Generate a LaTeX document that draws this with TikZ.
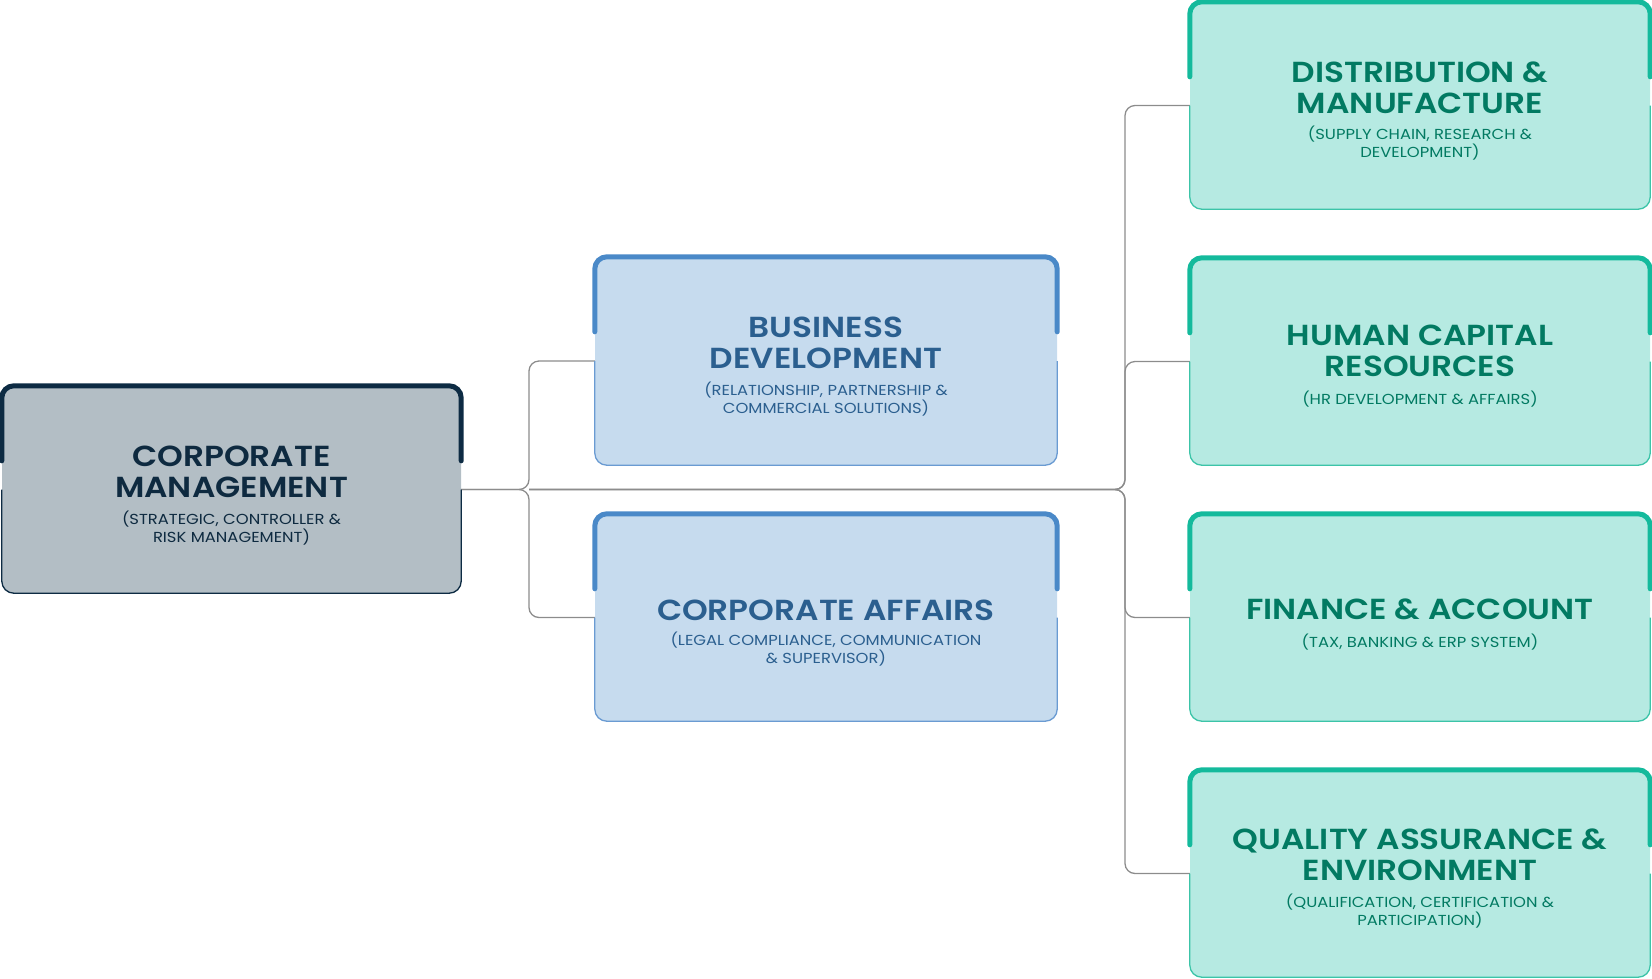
\documentclass[tikz,border=0pt]{standalone}
\usepackage{fontspec}
\setmainfont{Poppins}
\newfontfamily\ttlfont[FakeStretch=1.13, BoldFont={Poppins SemiBold}]{Poppins}
\newfontfamily\subfont[FakeStretch=1.13]{Poppins}
\definecolor{cmfill}{HTML}{B3BEC5}
\definecolor{cmline}{HTML}{0D2B43}
\definecolor{cmtext}{HTML}{0E2A40}
\definecolor{bdfill}{HTML}{C6DBEE}
\definecolor{bdline}{HTML}{4A89C8}
\definecolor{bdthin}{HTML}{6A9BD2}
\definecolor{bdtext}{HTML}{2B5F8F}
\definecolor{grfill}{HTML}{B6EAE2}
\definecolor{grline}{HTML}{14BA9C}
\definecolor{grthin}{HTML}{3CC4A8}
\definecolor{grtext}{HTML}{027A62}
\definecolor{connc}{HTML}{8C8C8C}
\begin{document}
\begin{tikzpicture}[x=1pt,y=-1pt,
  orgbox/.style={rectangle, rounded corners=12pt, minimum width=460pt, minimum height=207pt, inner sep=0pt, draw=none},
  titletext/.style={font=\ttlfont\fontsize{29}{31}\selectfont\bfseries, align=center, anchor=base, inner sep=0pt},
  subtext/.style={font=\subfont\fontsize{14.5}{17.5}\selectfont, align=center, anchor=base, inner sep=0pt},
  conn/.style={draw=connc, line width=1.3pt, rounded corners=10pt},
  thickcap/.style={line width=5pt, rounded corners=12pt, line cap=round},
  thinedge/.style={line width=1.3pt, rounded corners=12pt}
]
\useasboundingbox (0,0) rectangle (1652,978);

% boxes
\node[orgbox, fill=cmfill, minimum width=459pt] (CM) at (231.5,489.5) {};
\node[orgbox, fill=bdfill, minimum width=462pt, minimum height=208pt] (BD) at (826,361) {};
\node[orgbox, fill=bdfill, minimum width=462pt] (CA) at (826,617.5) {};
\node[orgbox, fill=grfill] (DM) at (1420,105.5) {};
\node[orgbox, fill=grfill] (HC) at (1420,361.5) {};
\node[orgbox, fill=grfill] (FA) at (1420,617.5) {};
\node[orgbox, fill=grfill] (QA) at (1420,873.5) {};

% connectors
\coordinate (j1) at (529,489.5);
\coordinate (j2) at (1125,489.5);
\draw[conn] (CM.east) -- (j1) |- (BD.west);
\draw[conn] (CM.east) -- (j1) |- (CA.west);
\draw[conn] (j1) -- (j2) |- (DM.west);
\draw[conn] (j1) -- (j2) |- (HC.west);
\draw[conn] (j1) -- (j2) |- (FA.west);
\draw[conn] (j1) -- (j2) |- (QA.west);

% borders
\foreach \b/\thk/\thn in {CM/cmline/cmline, BD/bdline/bdthin, CA/bdline/bdthin, DM/grline/grthin, HC/grline/grthin, FA/grline/grthin, QA/grline/grthin}{
  \draw[thickcap, draw=\thk] ([yshift=-75pt]\b.north west) -- (\b.north west) -- (\b.north east) -- ([yshift=-75pt]\b.north east);
  \draw[thinedge, draw=\thn] (\b.west) -- (\b.south west) -- (\b.south east) -- (\b.east);
}

% texts (base = baseline of the last line)
\node[titletext, text=cmtext] (CMt) at (231.5,497) {CORPORATE\\MANAGEMENT};
\node[subtext, text=cmtext] (CMs) at (231.5,542) {(STRATEGIC, CONTROLLER \&\\RISK MANAGEMENT)};

\node[titletext, text=bdtext] (BDt) at (826,368) {BUSINESS\\DEVELOPMENT};
\node[subtext, text=bdtext] (BDs) at (826,413) {(RELATIONSHIP, PARTNERSHIP \&\\COMMERCIAL SOLUTIONS)};

\node[titletext, text=bdtext] (CAt) at (826,620) {CORPORATE AFFAIRS};
\node[subtext, text=bdtext] (CAs) at (826,663) {(LEGAL COMPLIANCE, COMMUNICATION\\\& SUPERVISOR)};

\node[titletext, text=grtext] (DMt) at (1420,113) {DISTRIBUTION \&\\MANUFACTURE};
\node[subtext, text=grtext] (DMs) at (1420,157) {(SUPPLY CHAIN, RESEARCH \&\\DEVELOPMENT)};

\node[titletext, text=grtext] (HCt) at (1420,376) {HUMAN CAPITAL\\RESOURCES};
\node[subtext, text=grtext] (HCs) at (1420,404) {(HR DEVELOPMENT \& AFFAIRS)};

\node[titletext, text=grtext] (FAt) at (1420,619) {FINANCE \& ACCOUNT};
\node[subtext, text=grtext] (FAs) at (1420,647) {(TAX, BANKING \& ERP SYSTEM)};

\node[titletext, text=grtext] (QAt) at (1420,880) {QUALITY ASSURANCE \&\\ENVIRONMENT};
\node[subtext, text=grtext] (QAs) at (1420,925) {(QUALIFICATION, CERTIFICATION \&\\PARTICIPATION)};
\end{tikzpicture}
\end{document}
